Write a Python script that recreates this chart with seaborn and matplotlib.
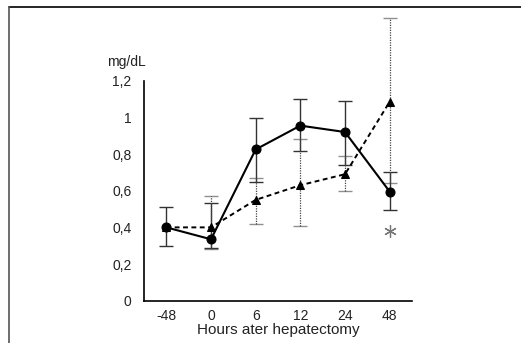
import numpy as np
import pandas as pd
import matplotlib
matplotlib.use("Agg")
import matplotlib.pyplot as plt
import seaborn as sns
from matplotlib.lines import Line2D

# data
hours = ["-48", "0", "6", "12", "24", "48"]
solid_mean = [0.40, 0.335, 0.825, 0.955, 0.92, 0.595]
solid_upper = [0.51, 0.535, 0.995, 1.10, 1.09, 0.70]
solid_lower = [0.30, 0.29, 0.65, 0.815, 0.74, 0.495]
dotted_mean = [0.40, 0.40, 0.55, 0.63, 0.69, 1.085]
dotted_upper = [0.40, 0.57, 0.67, 0.88, 0.79, 1.54]
dotted_lower = [0.40, 0.28, 0.42, 0.41, 0.60, 0.64]
yticks = [0, 0.2, 0.4, 0.6, 0.8, 1.0, 1.2]
ytick_labels = ["0", "0,2", "0,4", "0,6", "0,8", "1", "1,2"]
asterisk_pos = 5
asterisk_y = 0.38

sns.set_style("white")
plt.rcParams['font.family'] = ['Liberation Sans', 'DejaVu Sans']

pos = np.arange(len(hours))
df = pd.DataFrame({
    "pos": np.concatenate([pos, pos]),
    "value": solid_mean + dotted_mean,
    "group": ["solid"] * len(hours) + ["dotted"] * len(hours),
})

fig = plt.figure(figsize=(5.21, 3.43), dpi=100)
ax = fig.add_axes([0.2764, 0.1233, 0.5144, 0.6414])

# error bars
s_mean = np.array(solid_mean)
d_mean = np.array(dotted_mean)
ax.errorbar(pos, s_mean, yerr=[s_mean - np.array(solid_lower), np.array(solid_upper) - s_mean],
            fmt='none', ecolor='#333333', elinewidth=1.0, capsize=5, capthick=1.0,
            clip_on=False, zorder=2)
mask = np.array(dotted_upper) - d_mean > 0
eb2 = ax.errorbar(pos[mask], d_mean[mask],
                  yerr=[(d_mean - np.array(dotted_lower))[mask], (np.array(dotted_upper) - d_mean)[mask]],
                  fmt='none', ecolor='#444444', elinewidth=0.9, capsize=5, capthick=1.0,
                  clip_on=False, zorder=2)
for ln in eb2[2]:
    ln.set_linestyle((0, (1, 1)))
for cap in eb2[1]:
    cap.set_alpha(0.6)

sns.lineplot(data=df[df.group == "dotted"], x="pos", y="value", ax=ax, color='black',
             linewidth=1.4, marker='^', markersize=6, markeredgecolor='black',
             dashes=False, zorder=3, clip_on=False)
ax.lines[-1].set_linestyle((0, (2.5, 1.8)))
sns.lineplot(data=df[df.group == "solid"], x="pos", y="value", ax=ax, color='black',
             linewidth=1.5, marker='o', markersize=6.5, markeredgecolor='black',
             zorder=4, clip_on=False)

# significance mark
ax.plot([asterisk_pos], [asterisk_y], linestyle='none', marker=(6, 2, 0), markersize=9,
        markeredgewidth=0.9, color='#777777')

ax.set_xlim(-0.5, 5.5)
ax.set_ylim(0, 1.2)
ax.set_xticks(pos)
ax.set_xticklabels(hours)
ax.set_xticks(np.arange(0.5, 6, 1), minor=True)
ax.set_yticks(yticks)
ax.set_yticklabels(ytick_labels)
ax.tick_params(axis='x', which='major', length=0, pad=6, labelsize=10, labelcolor='#222222')
ax.tick_params(axis='x', which='minor', direction='in', length=5, width=1.2, color='black')
ax.tick_params(axis='y', direction='in', length=5, width=1.2, color='black', pad=9,
               labelsize=10, labelcolor='#222222')
ax.set_xlabel("Hours ater hepatectomy", fontsize=11, color='#222222', labelpad=0)
ax.set_ylabel("")
sns.despine(ax=ax)
for sp in ["left", "bottom"]:
    ax.spines[sp].set_linewidth(1.2)
    ax.spines[sp].set_color('black')

fig.text(107 / 521, 1 - 62 / 343, "mg/dL", fontsize=10, color='#222222', va='center', ha='left')

# frame lines on top and left
fig.add_artist(Line2D([9 / 521, 1], [1 - 7 / 343, 1 - 7 / 343], color='black', linewidth=1.2))
fig.add_artist(Line2D([9 / 521, 9 / 521], [0, 1 - 7 / 343], color='#555555', linewidth=1.2))

fig.savefig("out.png", dpi=100)
